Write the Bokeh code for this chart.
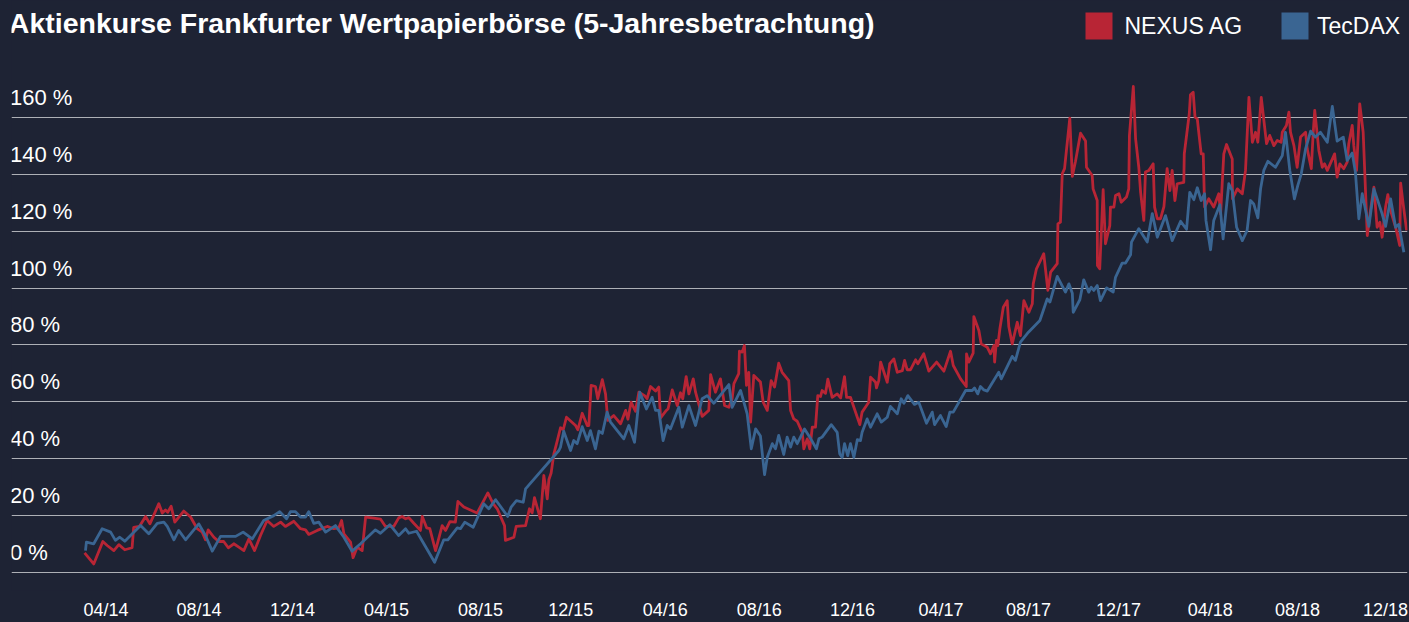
from bokeh.plotting import figure
from bokeh.models import Range1d, FixedTicker, Label, BoxAnnotation
from bokeh.embed import file_html
from bokeh.resources import INLINE

# ---------------- data (x = months since Jan 2014, y = performance in %) ----------------
NEXUS_X = [2.06, 2.46, 2.86, 3.05, 3.34, 3.56, 3.82, 4.14, 4.21, 4.46, 4.73, 4.92, 5.31, 5.46, 5.60, 5.70,
           5.85, 6.01, 6.40, 6.70, 6.99, 7.21, 7.35, 7.47, 7.72, 7.93, 8.15, 8.35, 8.59, 8.81, 9.03, 9.25,
           9.50, 9.76, 10.05, 10.34, 10.64, 10.85, 11.22, 11.51, 11.73, 11.87, 12.24, 12.68, 12.97, 13.19,
           13.31, 13.41, 13.70, 13.81, 13.99, 14.21, 14.36, 14.65, 15.01, 15.23, 15.59, 15.81, 15.96, 16.11,
           16.25, 16.47, 16.76, 16.84, 17.03, 17.17, 17.42, 17.71, 17.86, 18.05, 18.29, 18.40, 18.66, 19.24,
           19.71, 19.94, 20.12, 20.44, 20.48, 20.85, 20.95, 21.36, 21.53, 21.65, 21.75, 22.01, 22.16, 22.31,
           22.38, 22.48, 22.60, 22.75, 22.89, 23.01, 23.15, 23.55, 23.65, 23.84, 24.06, 24.13, 24.23, 24.42,
           24.52, 24.72, 24.86, 24.96, 25.22, 25.52, 25.74, 25.84, 25.98, 26.17, 26.32, 26.57, 26.68, 26.83,
           27.05, 27.19, 27.27, 27.52, 27.60, 27.78, 28.00, 28.14, 28.24, 28.39, 28.51, 28.70, 28.80, 29.09,
           29.38, 29.46, 29.67, 29.89, 30.07, 30.26, 30.40, 30.48, 30.69, 30.72, 30.84, 30.94, 31.03, 31.13,
           31.21, 31.35, 31.64, 31.76, 31.94, 32.11, 32.26, 32.44, 32.59, 32.88, 32.96, 33.10, 33.25, 33.47,
           33.54, 33.69, 33.80, 33.91, 34.05, 34.15, 34.27, 34.34, 34.49, 34.59, 34.78, 35.00, 35.15, 35.32,
           35.41, 35.58, 35.88, 35.99, 36.09, 36.38, 36.46, 36.68, 36.72, 36.82, 36.90, 37.19, 37.30, 37.48,
           37.63, 37.85, 37.95, 38.06, 38.21, 38.43, 38.53, 38.79, 39.01, 39.35, 39.67, 39.96, 40.08, 40.40,
           40.65, 40.66, 40.76, 40.95, 40.98, 41.20, 41.30, 41.57, 41.71, 41.86, 41.89, 41.97, 42.03, 42.12,
           42.27, 42.44, 42.51, 42.66, 42.88, 43.02, 43.17, 43.39, 43.54, 43.58, 43.72, 44.04, 44.22, 44.34,
           44.63, 44.66, 44.77, 44.85, 44.95, 45.07, 45.18, 45.29, 45.43, 45.65, 45.87, 45.91, 46.16, 46.20,
           46.38, 46.39, 46.49, 46.64, 46.74, 46.93, 46.96, 47.11, 47.18, 47.33, 47.43, 47.66, 47.76, 47.79,
           47.96, 48.06, 48.20, 48.28, 48.42, 48.49, 48.64, 48.83, 48.89, 49.01, 49.15, 49.30, 49.44, 49.56,
           49.66, 49.78, 49.88, 50.17, 50.19, 50.30, 50.41, 50.46, 50.58, 50.66, 50.76, 50.83, 50.93, 51.02,
           51.08, 51.26, 51.48, 51.70, 51.78, 51.92, 52.04, 52.29, 52.30, 52.51, 52.73, 52.87, 53.02, 53.17,
           53.31, 53.41, 53.56, 53.79, 53.93, 54.11, 54.26, 54.43, 54.48, 54.66, 54.77, 54.84, 54.99, 55.13,
           55.28, 55.50, 55.57, 55.75, 55.83, 55.90, 56.08, 56.23, 56.33, 56.45, 56.77, 56.88, 57.00, 57.17,
           57.32, 57.39, 57.54, 57.61, 57.73, 57.87, 58.02, 58.20, 58.34, 58.49, 58.63, 58.75, 58.85, 59.00,
           59.10, 59.22, 59.44, 59.62, 59.66, 59.77, 59.92]
NEXUS_Y = [6.9, 3.0, 10.9, 9.5, 7.7, 9.8, 8.0, 8.7, 15.9, 16.2, 19.7, 17.1, 24.2, 20.9, 22.0, 21.2,
           23.3, 17.7, 21.6, 19.5, 15.4, 14.2, 11.5, 15.0, 12.4, 10.9, 10.9, 8.7, 10.1, 8.9, 7.7, 11.8,
           7.7, 13.0, 18.3, 16.2, 17.7, 16.2, 18.0, 15.4, 15.0, 13.4, 14.8, 16.2, 15.4, 15.7,
           18.3, 13.6, 10.7, 5.2, 8.9, 7.7, 19.5, 19.2, 18.8, 16.2, 16.2, 19.2, 19.7, 18.9,
           19.3, 17.3, 14.8, 19.7, 15.7, 15.4, 7.7, 16.5, 14.8, 17.9, 17.7, 25.0, 23.0, 20.9,
           28.0, 24.2, 22.4, 16.5, 11.3, 12.4, 16.2, 16.5, 22.4, 21.0, 26.3, 18.9, 34.1, 25.9,
           32.6, 35.0, 41.7, 46.4, 50.9, 50.2, 54.6, 51.7, 50.2, 56.0, 51.7, 51.7, 65.8, 65.4,
           61.1, 67.8, 62.8, 53.5, 55.2, 52.3, 57.0, 53.9, 59.9, 56.7, 63.4, 62.2, 61.1, 65.4,
           63.8, 65.2, 54.4, 57.0, 57.6, 64.2, 58.7, 63.2, 61.1, 68.9, 62.8, 68.1, 63.4, 54.9,
           57.0, 69.6, 63.4, 68.1, 58.7, 58.1, 61.1, 66.4, 69.9, 77.8, 77.5, 79.8, 65.8, 70.4,
           52.9, 69.3, 67.0, 59.9, 57.0, 67.5, 65.2, 73.6, 70.4, 67.5, 57.0, 54.0, 53.2, 49.3,
           43.5, 47.0, 43.5, 51.1, 51.1, 62.2, 61.9, 64.0, 63.0, 68.0, 61.6, 62.8, 61.4, 68.9,
           61.6, 61.6, 54.6, 52.0, 56.4, 59.9, 68.7, 66.9, 64.9, 67.5, 74.0, 66.9, 73.4, 75.1,
           70.4, 71.0, 74.6, 71.3, 71.3, 74.8, 73.4, 76.9, 70.8, 74.0, 70.8, 77.8, 72.8, 68.1,
           65.4, 76.9, 74.0, 77.1, 90.0, 85.1, 80.4, 79.2, 76.9, 79.8, 74.0, 81.6, 79.8, 85.7,
           93.3, 95.6, 86.5, 80.4, 88.0, 83.3, 95.6, 91.5, 94.5, 101.5, 106.8, 112.1, 99.2, 105.6,
           108.6, 122.6, 123.2, 140.2, 142.0, 151.3, 159.8, 139.3, 144.6, 154.5, 151.7, 142.5, 139.6, 134.9,
           130.8, 108.0, 106.8, 134.6, 115.6, 122.0, 128.5, 128.5, 132.6, 133.2, 130.2, 132.0, 134.9, 153.7,
           170.9, 152.5, 142.5, 133.7, 123.8, 140.8, 141.4, 143.7, 128.5, 124.4, 124.4, 128.7, 142.0, 134.3,
           141.4, 130.8, 136.7, 137.2, 147.2, 154.3, 161.4, 168.0, 168.9, 160.1, 159.5, 154.3, 147.2, 147.2,
           128.5, 131.4, 128.5, 133.2, 126.1, 147.2, 150.5, 145.4, 131.4, 134.9, 133.2, 141.4, 167.1, 151.3,
           154.8, 151.3, 167.1, 150.8, 153.7, 150.1, 151.9, 151.3, 154.8, 157.2, 161.9, 154.8, 150.1, 142.5,
           153.1, 154.8, 149.0, 142.0, 154.3, 162.5, 148.4, 142.5, 143.7, 141.4, 147.2, 139.0, 143.7, 142.0,
           144.3, 150.8, 157.2, 150.1, 141.4, 164.8, 154.8, 118.5, 127.3, 135.5, 121.4, 123.2, 117.9, 128.5,
           132.9, 127.3, 121.4, 115.0, 136.9, 129.6, 120.3]

TECDAX_X = [2.10, 2.14, 2.46, 2.83, 3.20, 3.41, 3.60, 3.82, 4.51, 4.87, 5.24, 5.53, 5.68, 5.97, 6.18, 6.48,
            7.06, 7.35, 7.65, 8.01, 8.67, 9.00, 9.40, 9.90, 10.34, 10.60, 10.90, 11.07, 11.29, 11.51, 11.73,
            11.87, 12.09, 12.31, 12.61, 13.04, 13.41, 13.77, 14.14, 14.79, 15.01, 15.42, 15.81, 16.11, 16.25,
            16.59, 17.38, 17.78, 17.96, 18.37, 18.51, 18.70, 19.07, 19.53, 19.75, 20.05, 20.58, 20.73, 20.96,
            21.26, 21.36, 22.82, 22.89, 23.03, 23.33, 23.47, 23.62, 23.84, 24.06, 24.20, 24.42, 24.57, 24.72,
            24.93, 25.08, 25.66, 25.88, 26.13, 26.36, 26.65, 26.90, 27.05, 27.19, 27.38, 27.56, 27.70, 28.07,
            28.22, 28.51, 28.80, 29.09, 29.31, 29.60, 30.26, 30.40, 30.77, 31.06, 31.24, 31.43, 31.64, 31.82,
            31.94, 32.16, 32.30, 32.44, 32.66, 32.81, 32.96, 33.10, 33.25, 33.57, 33.80, 34.09, 34.20, 34.34,
            34.74, 35.00, 35.11, 35.22, 35.32, 35.46, 35.58, 35.73, 35.88, 36.02, 36.09, 36.31, 36.46, 36.75,
            36.93, 37.19, 37.33, 37.63, 37.80, 37.92, 38.09, 38.38, 38.57, 38.91, 39.16, 39.26, 39.52, 39.77,
            39.93, 40.08, 40.62, 40.91, 41.01, 41.15, 41.27, 41.42, 41.57, 42.07, 42.18, 42.66, 42.80, 43.02,
            43.37, 43.87, 44.19, 44.31, 44.63, 44.99, 45.14, 45.29, 45.33, 45.62, 45.79, 46.01, 46.12, 46.23,
            46.38, 46.52, 46.79, 47.08, 47.18, 47.47, 47.62, 47.84, 47.88, 48.20, 48.57, 48.79, 49.01, 49.37,
            49.66, 50.03, 50.29, 50.43, 50.61, 50.76, 50.93, 51.08, 51.14, 51.34, 51.48, 51.75, 51.89, 52.14,
            52.29, 52.48, 52.73, 52.94, 53.09, 53.23, 53.41, 53.53, 53.67, 53.85, 54.18, 54.48, 54.62, 54.81,
            55.01, 55.16, 55.31, 55.50, 55.72, 55.93, 56.15, 56.45, 56.67, 56.88, 57.15, 57.32, 57.54, 57.68,
            57.83, 57.98, 58.27, 58.49, 58.85, 59.00, 59.22, 59.44, 59.58, 59.80]
TECDAX_Y = [7.7, 10.7, 10.1, 15.4, 14.2, 11.3, 12.4, 11.0, 16.5, 13.6, 17.3, 17.7, 16.2, 11.5, 14.8, 11.5,
            17.1, 13.0, 7.5, 12.7, 12.7, 14.2, 11.8, 18.3, 20.0, 21.4, 18.9, 21.4, 21.4, 19.5, 19.5,
            21.4, 17.3, 17.7, 14.2, 16.5, 12.4, 7.5, 10.1, 15.0, 13.8, 16.8, 13.0, 15.4, 13.8,
            14.5, 3.6, 11.5, 11.5, 15.7, 15.4, 17.7, 15.9, 24.2, 22.4, 25.6, 19.7, 23.0, 25.3,
            24.7, 29.4, 42.9, 44.1, 49.7, 42.9, 46.4, 45.3, 51.3, 46.4, 49.9, 43.5, 49.7, 48.9,
            56.4, 52.9, 47.0, 51.7, 45.8, 63.4, 57.5, 61.6, 57.0, 57.0, 46.4, 51.7, 50.5, 58.1,
            51.1, 58.7, 51.7, 61.1, 62.2, 59.5, 66.1, 58.1, 64.0, 55.8, 43.5, 50.5, 48.0, 34.4,
            40.5, 45.3, 43.5, 48.2, 41.5, 47.6, 44.1, 47.6, 45.3, 50.5, 47.6, 43.5, 47.0, 47.6,
            52.0, 49.3, 41.7, 40.5, 45.3, 41.1, 45.3, 40.5, 46.7, 46.4, 49.3, 54.0, 51.1, 55.8,
            52.9, 54.6, 58.4, 55.8, 61.1, 59.5, 62.2, 59.1, 59.9, 52.5, 56.4, 52.0, 55.2, 51.3,
            56.4, 56.4, 64.0, 64.0, 64.9, 62.8, 65.4, 64.2, 63.8, 70.4, 68.1, 76.0, 74.6, 81.0,
            84.5, 88.6, 96.2, 95.1, 104.1, 98.6, 101.5, 98.2, 91.5, 95.9, 102.9, 98.6, 100.3, 99.2,
            100.9, 95.6, 100.1, 98.6, 103.8, 108.8, 108.8, 111.7, 116.2, 120.9, 116.2, 126.2, 117.9, 125.5,
            116.7, 123.5, 120.7, 133.7, 131.1, 135.3, 130.8, 133.2, 123.8, 113.5, 123.8, 129.3, 117.3, 136.7,
            134.3, 121.4, 116.7, 120.3, 130.8, 129.6, 124.7, 134.9, 141.4, 144.6, 142.5, 146.6, 154.8, 141.4,
            131.4, 136.1, 140.2, 149.0, 155.2, 153.1, 154.8, 151.3, 163.9, 151.7, 153.1, 144.9, 147.5, 140.8,
            124.4, 133.2, 121.7, 134.9, 126.1, 121.7, 131.4, 121.4, 122.4, 112.6]

SERIES_NAMES = ["NEXUS AG", "TecDAX"]
Y_TICKS = [0, 20, 40, 60, 80, 100, 120, 140, 160]
Y_LABELS = ["0 %", "20 %", "40 %", "60 %", "80 %", "100 %", "120 %", "140 %", "160 %"]
X_TICKS = [3.00, 7.07, 11.16, 15.27, 19.39, 23.34, 27.47, 31.59, 35.67, 39.54, 43.37, 47.31, 51.33, 55.15, 59.00]
X_LABELS = ["04/14", "08/14", "12/14", "04/15", "08/15", "12/15", "04/16", "08/16", "12/16",
            "04/17", "08/17", "12/17", "04/18", "08/18", "12/18"]
TITLE = "Aktienkurse Frankfurter Wertpapierbörse (5-Jahresbetrachtung)"

# ---------------- style ----------------
BG = "#1e2334"
RED = "#b82535"
BLUE = "#3a6592"
GRID = "#aeb0b6"
TXT = "#ffffff"
FONT = "Liberation Sans"

W, H = 1409, 622
B_LEFT, B_RIGHT, B_BOTTOM = 11, 2, 32
FRAME_W = W - B_LEFT - B_RIGHT
FRAME_H = H - B_BOTTOM

p = figure(width=W, height=H, output_backend="svg", toolbar_location=None,
           title_location=None, y_axis_location=None,
           x_range=Range1d(-1.138, 59.96), y_range=Range1d(-6.33, 201.14),
           min_border_left=B_LEFT, min_border_right=B_RIGHT, min_border_top=0,
           min_border_bottom=B_BOTTOM)
# the page element carries the dark background; the frame is filled with the same colour
p.styles = {"background-color": BG}
p.border_fill_color = None
p.background_fill_color = BG
p.outline_line_color = None
p.xgrid.visible = False

p.ygrid.ticker = FixedTicker(ticks=Y_TICKS)
p.ygrid.bounds = (0, 160)
p.ygrid.grid_line_color = GRID
p.ygrid.grid_line_width = 1.0

ax = p.xaxis[0]
ax.ticker = FixedTicker(ticks=X_TICKS)
ax.major_label_overrides = {t: l for t, l in zip(X_TICKS, X_LABELS)}
ax.axis_line_color = None
ax.major_tick_line_color = None
ax.minor_tick_line_color = None
ax.major_tick_out = 0
ax.major_tick_in = 0
ax.minor_tick_out = 0
ax.major_label_standoff = 9
ax.major_label_text_color = TXT
ax.major_label_text_font = FONT
ax.major_label_text_font_size = "18px"

p.line(NEXUS_X, NEXUS_Y, line_color=RED, line_width=2.8, line_join="round")
p.line(TECDAX_X, TECDAX_Y, line_color=BLUE, line_width=2.8, line_join="round")

for v, lbl in zip(Y_TICKS, Y_LABELS):
    p.add_layout(Label(x=-1.5, x_units="screen", y=v, y_units="data", y_offset=20,
                       text=lbl, text_color=TXT, text_font=FONT, text_font_size="22px",
                       text_baseline="alphabetic", text_align="left"))

# title
p.add_layout(Label(x=-2.7, x_units="screen", y=FRAME_H - 22.5, y_units="screen",
                   text=TITLE, text_color=TXT, text_font=FONT, text_font_size="28.5px",
                   text_font_style="bold", text_baseline="alphabetic", text_align="left"))

# legend (squares + labels)
LEG_SQ_X = [1074, 1270]
LEG_TX_X = [1113, 1305.5]
for name, col, sx, tx in zip(SERIES_NAMES, [RED, BLUE], LEG_SQ_X, LEG_TX_X):
    p.add_layout(BoxAnnotation(left=sx, right=sx + 27, bottom=FRAME_H - 39, top=FRAME_H - 12,
                               left_units="screen", right_units="screen",
                               bottom_units="screen", top_units="screen",
                               fill_color=col, fill_alpha=1.0, line_color=None))
    p.add_layout(Label(x=tx, x_units="screen", y=FRAME_H - 25.5, y_units="screen",
                       text=name, text_color=TXT, text_font=FONT, text_font_size="23px",
                       text_baseline="alphabetic", text_align="left"))

open("out.html", "w").write(file_html(p, INLINE))
